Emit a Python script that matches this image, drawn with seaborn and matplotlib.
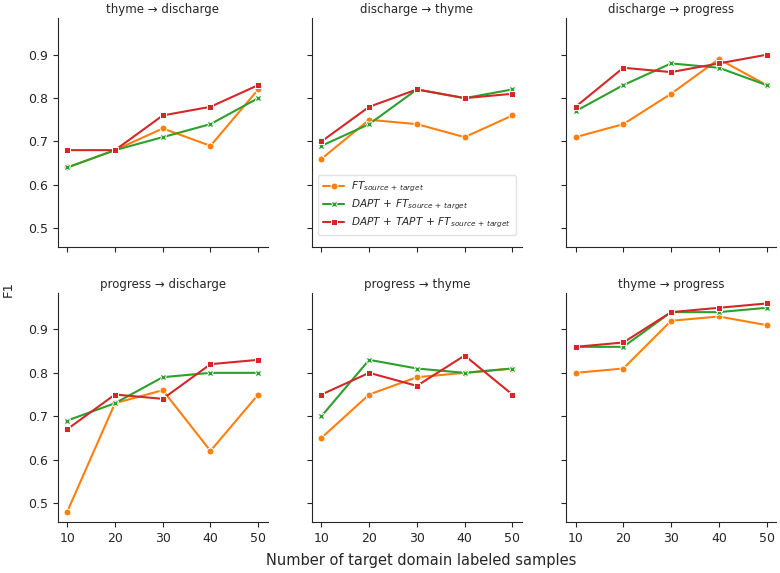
import numpy as np
import pandas as pd
import matplotlib
matplotlib.use("Agg")
import matplotlib.pyplot as plt
import seaborn as sns

samples = [10, 20, 30, 40, 50]
tasks = ["thyme \u2192 discharge", "discharge \u2192 thyme", "discharge \u2192 progress",
         "progress \u2192 discharge", "progress \u2192 thyme", "thyme \u2192 progress"]
methods = [r"$FT_{source\,+\,target}$",
           r"$DAPT\,+\,FT_{source\,+\,target}$",
           r"$DAPT\,+\,TAPT\,+\,FT_{source\,+\,target}$"]

ft = [
    [0.64, 0.68, 0.73, 0.69, 0.82],
    [0.66, 0.75, 0.74, 0.71, 0.76],
    [0.71, 0.74, 0.81, 0.89, 0.83],
    [0.48, 0.73, 0.76, 0.62, 0.75],
    [0.65, 0.75, 0.79, 0.80, 0.81],
    [0.80, 0.81, 0.92, 0.93, 0.91],
]
dapt = [
    [0.64, 0.68, 0.71, 0.74, 0.80],
    [0.69, 0.74, 0.82, 0.80, 0.82],
    [0.77, 0.83, 0.88, 0.87, 0.83],
    [0.69, 0.73, 0.79, 0.80, 0.80],
    [0.70, 0.83, 0.81, 0.80, 0.81],
    [0.86, 0.86, 0.94, 0.94, 0.95],
]
dapt_tapt = [
    [0.68, 0.68, 0.76, 0.78, 0.83],
    [0.70, 0.78, 0.82, 0.80, 0.81],
    [0.78, 0.87, 0.86, 0.88, 0.90],
    [0.67, 0.75, 0.74, 0.82, 0.83],
    [0.75, 0.80, 0.77, 0.84, 0.75],
    [0.86, 0.87, 0.94, 0.95, 0.96],
]

rows = []
for ti, t in enumerate(tasks):
    for m, series in zip(methods, [ft, dapt, dapt_tapt]):
        for x, y in zip(samples, series[ti]):
            rows.append({"task": t, "method": m, "samples": x, "F1": y})
df = pd.DataFrame(rows)

sns.set_style("ticks")
palette = {methods[0]: "#ff7f0e", methods[1]: "#2ca02c", methods[2]: "#d62728"}
markers = {methods[0]: "o", methods[1]: "X", methods[2]: "s"}
sizes = {methods[0]: 6, methods[1]: 5, methods[2]: 4.5}

fig, axes = plt.subplots(2, 3, figsize=(7.8, 5.73), dpi=100, sharex=True, sharey=True)
fig.subplots_adjust(left=0.074, right=0.995, top=0.968, bottom=0.089, wspace=0.21, hspace=0.2)

for i, (ax, t) in enumerate(zip(axes.flat, tasks)):
    sub = df[df["task"] == t]
    sns.lineplot(data=sub, x="samples", y="F1", hue="method", style="method",
                 palette=palette, markers=markers, dashes=False, ax=ax,
                 linewidth=1.5, markersize=5, markeredgecolor="white",
                 markeredgewidth=0.7, legend=(i == 1))
    ax.set_title(t, fontsize=8.5, pad=4)
    ax.set_xlabel("")
    ax.set_ylabel("")
    ax.set_xticks(samples)
    ax.set_yticks([0.5, 0.6, 0.7, 0.8, 0.9])
    ax.tick_params(labelsize=9)
    sns.despine(ax=ax)

leg = axes[0, 1].legend(loc="lower left", bbox_to_anchor=(0.005, 0.03), fontsize=7.6,
                        frameon=True, handlelength=2.0, borderpad=0.45, labelspacing=0.35,
                        handletextpad=0.7)
leg.get_frame().set_edgecolor("#dddddd")

fig.text(0.011, 0.495, "F1", rotation=90, va="center", ha="center", fontsize=9.5)
fig.text(0.54, 0.021, "Number of target domain labeled samples", ha="center", va="center", fontsize=10.5)

fig.savefig("out.png", dpi=100)
